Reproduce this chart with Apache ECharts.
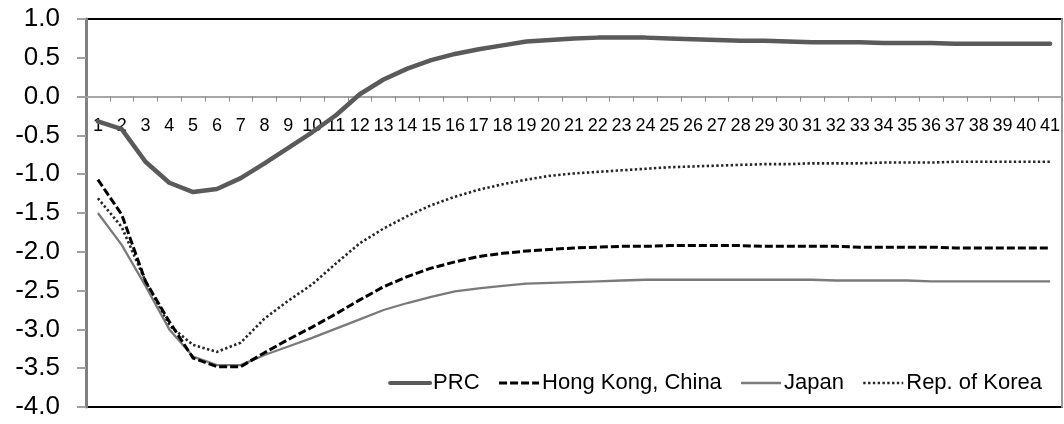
<!DOCTYPE html>
<html>
<head>
<meta charset="utf-8">
<script src="https://cdn.jsdelivr.net/npm/echarts@6/dist/echarts.min.js"></script>
<style>html,body{margin:0;padding:0;background:#fff}#c{width:1064px;height:424px}</style>
</head>
<body>
<div id="c"></div>
<script>
const categories = Array.from({length: 41}, (_, i) => String(i + 1));
const prc = [-0.32, -0.42, -0.84, -1.11, -1.23, -1.19, -1.05, -0.86, -0.66, -0.46, -0.24, 0.03, 0.22, 0.36, 0.47, 0.55, 0.61, 0.66, 0.71, 0.73, 0.75, 0.76, 0.76, 0.76, 0.75, 0.74, 0.73, 0.72, 0.72, 0.71, 0.70, 0.70, 0.70, 0.69, 0.69, 0.69, 0.68, 0.68, 0.68, 0.68, 0.68];
const hongKong = [-1.07, -1.52, -2.38, -2.90, -3.37, -3.48, -3.48, -3.30, -3.13, -2.97, -2.80, -2.62, -2.45, -2.32, -2.21, -2.13, -2.06, -2.02, -1.99, -1.97, -1.95, -1.94, -1.93, -1.93, -1.92, -1.92, -1.92, -1.92, -1.93, -1.93, -1.93, -1.93, -1.94, -1.94, -1.94, -1.94, -1.95, -1.95, -1.95, -1.95, -1.95];
const japan = [-1.50, -1.91, -2.44, -3.00, -3.35, -3.46, -3.46, -3.33, -3.22, -3.11, -2.99, -2.87, -2.75, -2.66, -2.58, -2.51, -2.47, -2.44, -2.41, -2.40, -2.39, -2.38, -2.37, -2.36, -2.36, -2.36, -2.36, -2.36, -2.36, -2.36, -2.36, -2.37, -2.37, -2.37, -2.37, -2.38, -2.38, -2.38, -2.38, -2.38, -2.38];
const korea = [-1.31, -1.68, -2.38, -2.95, -3.20, -3.29, -3.17, -2.86, -2.63, -2.42, -2.15, -1.89, -1.70, -1.54, -1.40, -1.29, -1.20, -1.13, -1.07, -1.02, -0.99, -0.97, -0.95, -0.93, -0.91, -0.90, -0.89, -0.88, -0.87, -0.87, -0.86, -0.86, -0.86, -0.85, -0.85, -0.85, -0.84, -0.84, -0.84, -0.84, -0.84];
const seriesNames = ['PRC', 'Hong Kong, China', 'Japan', 'Rep. of Korea'];
const yMin = -4, yMax = 1;

const FONT = "'Liberation Sans', Arial, sans-serif";
const GRID_TOP = 19, GRID_BOTTOM = 17, H = 424;
const plotH = H - GRID_TOP - GRID_BOTTOM;
// distance from bottom edge of plot up to the value 0 line
const zeroOffset = plotH * (0 - yMin) / (yMax - yMin);

const styles = [
  {color: '#5a5a5a', width: 4.5, type: 'solid'},
  {color: '#000000', width: 3, type: [8, 3]},
  {color: '#7a7a7a', width: 2.3, type: 'solid'},
  {color: '#262626', width: 2.6, type: [2.4, 2.4]}
];
const values = [prc, hongKong, japan, korea];

const chart = echarts.init(document.getElementById('c'), null, {renderer: 'canvas'});
chart.setOption({
  animation: false,
  backgroundColor: '#fff',
  grid: {left: 86, right: 2, top: GRID_TOP, bottom: GRID_BOTTOM, containLabel: false, outerBoundsMode: 'none',
         show: true, borderColor: '#000', borderWidth: 2, backgroundColor: 'transparent'},
  legend: {
    data: seriesNames.map((n, i) => ({name: n, itemStyle: {opacity: 0}, lineStyle: {color: styles[i].color, width: Math.min(styles[i].width, 4), type: styles[i].type, opacity: 1}})),
    right: 22, top: 372, padding: 0,
    itemWidth: 40, itemHeight: 14, itemGap: 18,
    textStyle: {fontFamily: FONT, fontSize: 22, color: '#000', padding: [0, 0, 0, -2]}
  },
  xAxis: {
    type: 'category', data: categories, boundaryGap: true, position: 'bottom',
    offset: -zeroOffset,
    axisLine: {onZero: false, lineStyle: {color: '#a6a6a6', width: 2}},
    axisTick: {show: true, length: 5, alignWithLabel: false, inside: false, lineStyle: {color: '#8c8c8c', width: 1}},
    axisLabel: {interval: 0, margin: 20, fontFamily: FONT, fontSize: 18, color: '#000'},
    splitLine: {show: false}
  },
  yAxis: [{
    type: 'value', min: yMin, max: yMax, interval: 0.5,
    axisLine: {show: true, lineStyle: {color: '#808080', width: 3}},
    axisTick: {show: true, length: 9, lineStyle: {color: '#a0a0a0', width: 2}},
    axisLabel: {margin: 26, fontFamily: FONT, fontSize: 26, color: '#000', formatter: v => v.toFixed(1)},
    splitLine: {show: false}
  }, {
    type: 'value', min: yMin, max: yMax, interval: 0.5, position: 'right',
    axisLine: {show: true, onZero: false, lineStyle: {color: '#9a9a9a', width: 2}},
    axisTick: {show: false}, axisLabel: {show: false}, splitLine: {show: false}
  }],
  series: seriesNames.map((n, i) => ({
    name: n, type: 'line', data: values[i], symbol: 'none', smooth: false, z: 6 - i,
    lineStyle: {color: styles[i].color, width: styles[i].width, type: styles[i].type, cap: i === 0 ? 'round' : 'butt', join: 'round'},
    itemStyle: {color: styles[i].color}
  }))
});
</script>
</body>
</html>
